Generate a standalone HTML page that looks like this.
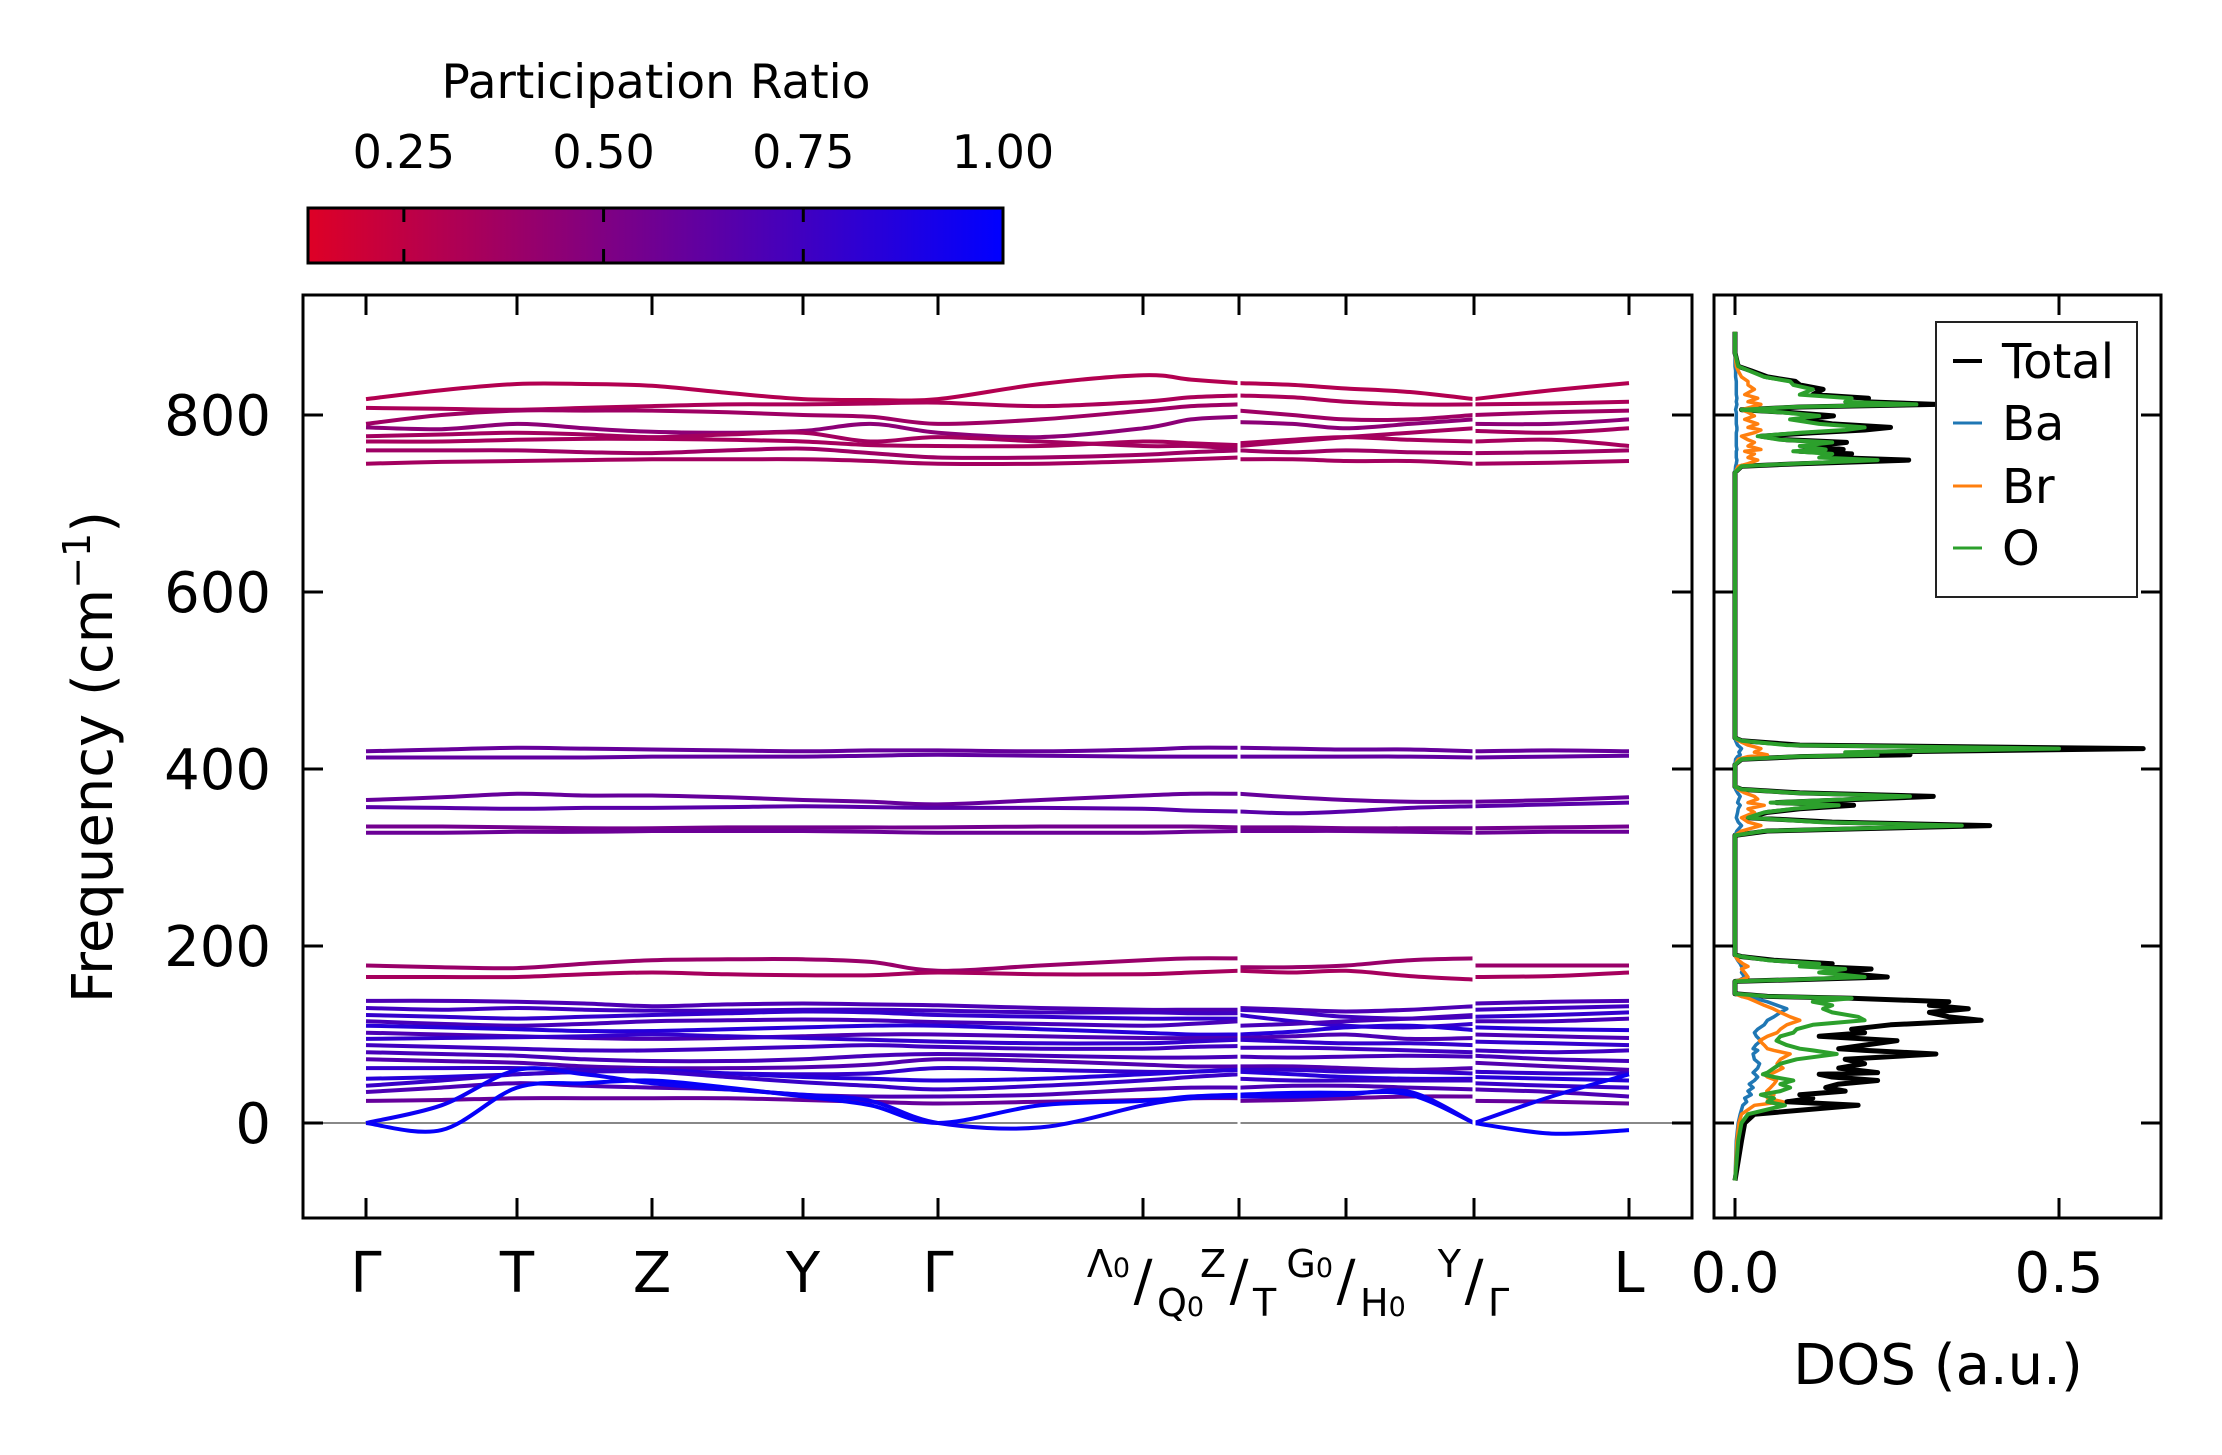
<!DOCTYPE html>
<html><head><meta charset="utf-8"><style>
body{margin:0;background:#fff}
svg{display:block;font-family:"DejaVu Sans","Liberation Sans",sans-serif}
</style></head><body>
<svg id="fig" width="2222" height="1455" viewBox="0 0 2222 1455" xmlns="http://www.w3.org/2000/svg">
<defs>
<linearGradient id="cmap" x1="0" x2="1" y1="0" y2="0"><stop offset="0" stop-color="rgb(222,0,38)"/><stop offset="1" stop-color="rgb(0,0,255)"/></linearGradient>
<clipPath id="bandclip"><rect x="303" y="295" width="1389" height="923"/></clipPath>
<clipPath id="dosclip"><rect x="1714" y="295" width="447" height="923"/></clipPath>
</defs>
<g id="colorbar">
<text x="656" y="98" font-size="47" text-anchor="middle">Participation Ratio</text>
<rect x="308" y="208" width="695" height="55" fill="url(#cmap)" stroke="#000" stroke-width="3"/>
</g>
<g id="bandAxes"></g>
<g id="dosAxes"></g>
<text transform="translate(112,757) rotate(-90)" font-size="56" text-anchor="middle">Frequency (cm<tspan font-size="38" dy="-22">−1</tspan><tspan dy="22">)</tspan></text>
<text x="1938" y="1384" font-size="56" text-anchor="middle">DOS (a.u.)</text>
<g>
<rect x="1936" y="322" width="201" height="275" fill="#fff" stroke="#222" stroke-width="2"/>
<line x1="1953" x2="1982" y1="361" y2="361" stroke="#000" stroke-width="4"/>
<text x="2002" y="378" font-size="48">Total</text>
<line x1="1953" x2="1982" y1="423" y2="423" stroke="#1f77b4" stroke-width="3"/>
<text x="2002" y="440" font-size="48">Ba</text>
<line x1="1953" x2="1982" y1="486" y2="486" stroke="#ff7f0e" stroke-width="3"/>
<text x="2002" y="503" font-size="48">Br</text>
<line x1="1953" x2="1982" y1="548" y2="548" stroke="#2ca02c" stroke-width="3"/>
<text x="2002" y="565" font-size="48">O</text>
</g>
</svg>
<script>
const NS="http://www.w3.org/2000/svg";
// ---- data ----
const kTicks=[0,1.51,2.86,4.37,5.72,7.77,8.73,9.80,11.08,12.63];
const segA=[0,0.755,1.51,2.185,2.86,3.615,4.37,5.045,5.72,6.745,7.77,8.25,8.73];
const segB=[8.73,9.265,9.80,10.44,11.08];
const segC=[11.08,11.855,12.63];
const freqTicks=[0,200,400,600,800];
const cbarTicks=[0.25,0.5,0.75,1.0];
const cbarLabels=["0.25","0.50","0.75","1.00"];
const dosTicks=[0,0.5];
const dosTickLabels=["0.0","0.5"];
const bands=[
[818,828,835,835,833,825,818,817,818,835,845,840,836,836,834,830,826,818,818,828,836],
[808,807,806,808,810,812,812,813,814,810,815,820,822,822,820,815,812,812,812,813,815],
[790,800,805,805,805,803,800,798,790,795,805,810,812,805,800,795,795,800,800,803,805],
[786,784,790,785,781,780,782,790,780,775,785,795,798,792,790,785,790,795,790,790,795],
[776,778,780,778,775,778,780,770,775,770,765,765,762,765,770,775,780,785,782,780,785],
[770,770,772,773,773,772,770,766,765,765,770,768,766,768,772,775,772,770,770,772,765],
[760,760,760,758,757,760,762,757,752,752,755,758,760,760,758,760,758,757,757,758,760],
[745,747,748,749,750,750,750,748,745,745,748,750,752,750,750,748,748,745,745,746,748],
[420,422,424,423,422,421,420,421,421,420,422,424,424,424,423,422,422,420,420,421,420],
[413,413,413,413,414,414,414,415,416,415,414,414,414,414,414,414,414,413,413,414,415],
[365,368,372,370,370,368,365,363,360,365,370,372,372,372,368,365,363,363,363,365,368],
[357,356,355,356,356,357,358,357,356,356,355,353,352,352,350,352,356,358,358,360,362],
[335,335,334,333,333,334,334,334,334,335,335,335,334,334,334,333,333,333,333,334,335],
[328,328,329,329,330,330,330,329,328,328,328,329,330,330,330,330,329,328,328,329,329],
[178,176,175,180,184,185,185,182,172,178,184,186,186,176,176,178,184,186,178,178,178],
[165,165,165,168,170,168,167,167,170,168,168,170,172,172,170,172,166,162,165,166,170],
[138,138,137,135,132,134,135,134,133,130,128,128,128,130,128,126,128,132,135,137,138],
[130,128,130,128,127,127,128,128,127,125,125,124,124,128,125,120,118,120,128,130,132],
[122,120,118,120,122,124,126,125,122,120,118,118,118,122,115,110,108,112,120,122,125],
[115,112,110,112,115,116,117,116,114,112,110,112,115,110,112,115,118,122,115,115,118],
[110,108,106,104,104,106,108,110,110,106,102,100,100,100,103,108,110,105,108,106,105],
[102,100,98,96,95,96,98,100,100,98,96,96,96,96,98,100,95,96,100,98,96],
[95,96,97,98,100,98,96,94,92,90,90,92,94,94,92,90,90,88,92,90,88],
[88,86,84,82,82,84,86,88,86,84,84,86,87,85,85,84,82,80,82,80,82],
[80,78,76,72,70,70,72,76,78,76,74,74,75,75,74,75,76,75,76,72,70],
[72,70,68,64,62,62,63,66,72,70,66,64,64,64,64,62,60,62,68,64,60],
[62,62,62,60,58,56,55,56,62,60,58,58,60,60,60,58,58,56,58,56,56],
[50,52,55,58,60,56,52,50,48,50,55,58,60,58,55,52,50,50,52,50,48],
[42,48,55,58,58,52,46,42,38,42,48,52,55,50,48,48,48,48,45,42,40],
[35,40,45,42,40,38,32,30,30,32,38,40,40,40,42,42,40,38,38,35,30],
[25,26,28,28,28,28,26,24,22,24,26,28,28,25,26,28,30,30,25,24,22],
[0,-8,40,45,48,40,30,20,0,20,25,30,32,32,34,34,32,0,0,-12,-8],
[0,20,60,55,45,38,32,25,0,-5,20,28,30,30,30,32,35,0,0,30,55]
];
const bandPR=[0.3,0.33,0.38,0.45,0.36,0.35,0.38,0.36,0.6,0.62,0.6,0.65,0.55,0.58,0.4,0.35,0.7,0.75,0.8,0.72,0.85,0.7,0.8,0.75,0.72,0.68,0.8,0.85,0.78,0.7,0.6,0.98,0.95];
const dosFreq=[-65,-20,0,10,20,24,28,32,36,40,44,48,52,55,57,62,67,72,78,82,84,88,93,98,102,106,111,116,120,125,129,133,137,141,143,146,150,155,160,162,165,170,174,177,180,184,188,190,
320,325,330,336,340,345,351,355,359,362,366,369,373,377,380,
405,411,414,416,419,423,427,432,435,
735,742,745,749,752,756,759,761,765,769,772,776,780,783,786,790,795,799,803,806,809,812,815,819,823,829,834,838,843,850,855,870,894];
const dosTotal=[0,0.01,0.015,0.03,0.19,0.08,0.12,0.1,0.17,0.14,0.16,0.22,0.15,0.13,0.22,0.16,0.2,0.17,0.31,0.2,0.16,0.2,0.25,0.13,0.2,0.18,0.24,0.38,0.33,0.3,0.36,0.3,0.33,0.18,0.05,0,0,0,0,0.1,0.235,0.15,0.21,0.12,0.15,0.06,0.01,0,
0,0,0.05,0.393,0.15,0.02,0.05,0.1,0.183,0.064,0.2,0.306,0.1,0.01,0,
0,0.01,0.1,0.27,0.2,0.63,0.1,0.01,0,
0,0.01,0.1,0.268,0.15,0.18,0.1,0.167,0.12,0.172,0.08,0.04,0.12,0.2,0.24,0.15,0.1,0.152,0.08,0.01,0.1,0.31,0.2,0.206,0.12,0.136,0.1,0.093,0.05,0.025,0.005,0,0];
const dosO=[0,0.005,0.01,0.02,0.077,0.05,0.06,0.04,0.07,0.085,0.07,0.09,0.06,0.043,0.05,0.06,0.07,0.095,0.157,0.12,0.1,0.08,0.064,0.07,0.09,0.095,0.12,0.2,0.19,0.15,0.136,0.15,0.12,0.18,0.05,0,0,0,0,0.09,0.2,0.13,0.17,0.1,0.13,0.05,0.01,0,
0,0,0.045,0.35,0.13,0.02,0.045,0.09,0.16,0.055,0.18,0.27,0.09,0.01,0,
0,0.01,0.09,0.22,0.17,0.5,0.08,0.01,0,
0,0.01,0.09,0.22,0.13,0.15,0.09,0.14,0.1,0.15,0.07,0.035,0.1,0.17,0.2,0.13,0.085,0.13,0.07,0.01,0.09,0.28,0.17,0.18,0.1,0.12,0.09,0.085,0.045,0.022,0.005,0,0];
const dosBa=[0,0.002,0.005,0.008,0.012,0.018,0.015,0.025,0.02,0.028,0.022,0.03,0.035,0.031,0.028,0.035,0.038,0.03,0.028,0.035,0.028,0.032,0.04,0.033,0.03,0.035,0.045,0.05,0.06,0.07,0.08,0.065,0.05,0.03,0.01,0,0,0,0,0.008,0.015,0.01,0.012,0.01,0.008,0.004,0.001,0,
0,0,0.003,0.01,0.005,0.002,0.004,0.005,0.008,0.004,0.006,0.008,0.004,0.001,0,
0,0.001,0.004,0.008,0.006,0.01,0.004,0.001,0,
0,0.001,0.002,0.003,0.002,0.002,0.002,0.003,0.002,0.002,0.002,0.002,0.002,0.003,0.003,0.002,0.002,0.002,0.002,0.001,0.002,0.003,0.002,0.003,0.002,0.002,0.002,0.002,0.001,0.001,0,0,0];
const dosBr=[0,0.003,0.006,0.01,0.03,0.074,0.05,0.06,0.049,0.055,0.06,0.064,0.05,0.045,0.06,0.074,0.065,0.07,0.085,0.06,0.05,0.045,0.038,0.05,0.065,0.07,0.08,0.1,0.085,0.07,0.059,0.045,0.033,0.02,0.01,0,0,0,0,0.01,0.02,0.015,0.01,0.02,0.012,0.005,0.001,0,
0,0,0.01,0.04,0.02,0.01,0.03,0.02,0.045,0.02,0.035,0.03,0.015,0.005,0,
0,0.005,0.02,0.05,0.03,0.04,0.02,0.005,0,
0,0.005,0.02,0.035,0.02,0.03,0.015,0.04,0.02,0.03,0.02,0.01,0.03,0.04,0.02,0.035,0.015,0.03,0.02,0.01,0.025,0.04,0.02,0.035,0.015,0.03,0.02,0.02,0.01,0.005,0.002,0,0];

// ---- axes functions ----
const yF=f=>1123-f*0.885;
const xK=k=>366+k*100;
const xD=v=>1735+v*648;
const xC=p=>308+(p-0.13)/0.87*695;
function cmap(p){const t=Math.max(0,Math.min(1,(p-0.13)/0.87));return `rgb(${Math.round(222*(1-t))},0,${Math.round(38+217*t)})`;}
function mk(tag,attrs,parent){const e=document.createElementNS(NS,tag);for(const a in attrs)e.setAttribute(a,attrs[a]);parent.appendChild(e);return e;}
const svg=document.getElementById('fig');
const bandG=document.getElementById('bandAxes');
const dosG=document.getElementById('dosAxes');
const cbG=document.getElementById('colorbar');

cbarTicks.forEach((p,i)=>{
  const x=xC(p);
  if(i<3){
    const t1=mk('line',{x1:x,x2:x,y1:209,y2:222,stroke:'#000','stroke-width':3},cbG);
    
    
    const t2=mk('line',{x1:x,x2:x,y1:249,y2:262,stroke:'#000','stroke-width':3},cbG);
    
    
  }
  const tx=mk('text',{x:x,y:168,'font-size':46,'text-anchor':'middle'},cbG);
  tx.textContent=cbarLabels[i];
  
  
});

const zl=mk('line',{x1:303,x2:1692,y1:yF(0),y2:yF(0),stroke:'#888','stroke-width':2},bandG);



const bg=mk('g',{'clip-path':'url(#bandclip)'},bandG);


function crPath(ks,vs){
  const P=ks.map((k,i)=>[xK(k),yF(vs[i])]);
  let d=`M${P[0][0].toFixed(1)},${P[0][1].toFixed(1)}`;
  for(let i=0;i<P.length-1;i++){
    const p0=P[Math.max(0,i-1)],p1=P[i],p2=P[i+1],p3=P[Math.min(P.length-1,i+2)];
    const c1=[p1[0]+(p2[0]-p0[0])/6,p1[1]+(p2[1]-p0[1])/6];
    const c2=[p2[0]-(p3[0]-p1[0])/6,p2[1]-(p3[1]-p1[1])/6];
    d+=`C${c1[0].toFixed(1)},${c1[1].toFixed(1)} ${c2[0].toFixed(1)},${c2[1].toFixed(1)} ${p2[0].toFixed(1)},${p2[1].toFixed(1)}`;
  }
  return d;
}
bands.forEach((b,i)=>{
  const col=cmap(bandPR[i]);
  const parts=[[segA,b.slice(0,13)],[segB,b.slice(13,18)],[segC,b.slice(18,21)]];
  parts.forEach(([ks,vs])=>{
    const p=mk('path',{d:crPath(ks,vs),fill:'none',stroke:col,'stroke-width':4},bg);
    
    
  });
});
[8.73,11.08].forEach(k=>{
  const r=mk('rect',{x:xK(k)-1.5,y:296,width:3,height:900,fill:'#fff'},bandG);
  
  
});

const bf=mk('rect',{x:303,y:295,width:1389,height:923,fill:'none',stroke:'#000','stroke-width':3},bandG);


freqTicks.forEach(f=>{
  const y=yF(f);
  const a=mk('line',{x1:303,x2:323,y1:y,y2:y,stroke:'#000','stroke-width':3},bandG);
  
  
  const b=mk('line',{x1:1672,x2:1692,y1:y,y2:y,stroke:'#000','stroke-width':3},bandG);
  
  
  const t=mk('text',{x:271,y:y+20,'font-size':56,'text-anchor':'end'},bandG);
  t.textContent=String(f);
  
  
  const c=mk('line',{x1:1714,x2:1734,y1:y,y2:y,stroke:'#000','stroke-width':3},dosG);
  
  
  const d=mk('line',{x1:2141,x2:2161,y1:y,y2:y,stroke:'#000','stroke-width':3},dosG);
  
  
});
kTicks.forEach(k=>{
  const x=xK(k);
  const a=mk('line',{x1:x,x2:x,y1:295,y2:315,stroke:'#000','stroke-width':3},bandG);
  
  
  const b=mk('line',{x1:x,x2:x,y1:1198,y2:1218,stroke:'#000','stroke-width':3},bandG);
  
  
});
const simple=[[0,'Γ'],[1,'T'],[2,'Z'],[3,'Y'],[4,'Γ'],[9,'L']];
simple.forEach(([i,s])=>{
  const t=mk('text',{x:xK(kTicks[i]),y:1292,'font-size':56,'text-anchor':'middle'},bandG);
  t.textContent=s;
  
  
});
const combo=[[5,'Λ','0','Q','0'],[6,'Z','','T',''],[7,'G','0','H','0'],[8,'Y','','Γ','']];
combo.forEach(([i,a,as,b,bs])=>{
  const x=xK(kTicks[i]);
  const s=mk('text',{x:x,y:1300,'font-size':56,'text-anchor':'middle'},bandG);
  s.textContent='/';
  
  
  const l=mk('text',{x:x-13,y:1277,'font-size':38,'text-anchor':'end'},bandG);
  l.innerHTML=a+(as?`<tspan font-size="27">${as}</tspan>`:'');
  
  
  const r=mk('text',{x:x+14,y:1316,'font-size':38,'text-anchor':'start'},bandG);
  r.innerHTML=b+(bs?`<tspan font-size="27">${bs}</tspan>`:'');
  
  
});

const dg=mk('g',{'clip-path':'url(#dosclip)'},dosG);


function dosLine(vals,col,w,name){
  const n=Math.min(vals.length,dosFreq.length);
  let pts=[];for(let i=0;i<n;i++)pts.push(`${xD(vals[i]).toFixed(1)},${yF(dosFreq[i]).toFixed(1)}`);
  const p=mk('polyline',{points:pts.join(' '),fill:'none',stroke:col,'stroke-width':w,'stroke-linejoin':'round'},dg);
  
  
}
dosLine(dosTotal,'#000',5,'dos-total');
dosLine(dosBa,'#1f77b4',3.5,'dos-ba');
dosLine(dosBr,'#ff7f0e',3.5,'dos-br');
dosLine(dosO,'#2ca02c',4,'dos-o');
const df=mk('rect',{x:1714,y:295,width:447,height:923,fill:'none',stroke:'#000','stroke-width':3},dosG);


dosTicks.forEach((v,i)=>{
  const x=xD(v);
  const a=mk('line',{x1:x,x2:x,y1:1198,y2:1218,stroke:'#000','stroke-width':3},dosG);
  
  
  const b=mk('line',{x1:x,x2:x,y1:295,y2:315,stroke:'#000','stroke-width':3},dosG);
  
  
  const t=mk('text',{x:x,y:1292,'font-size':56,'text-anchor':'middle'},dosG);
  t.textContent=dosTickLabels[i];
  
  
});
</script>
</body></html>
